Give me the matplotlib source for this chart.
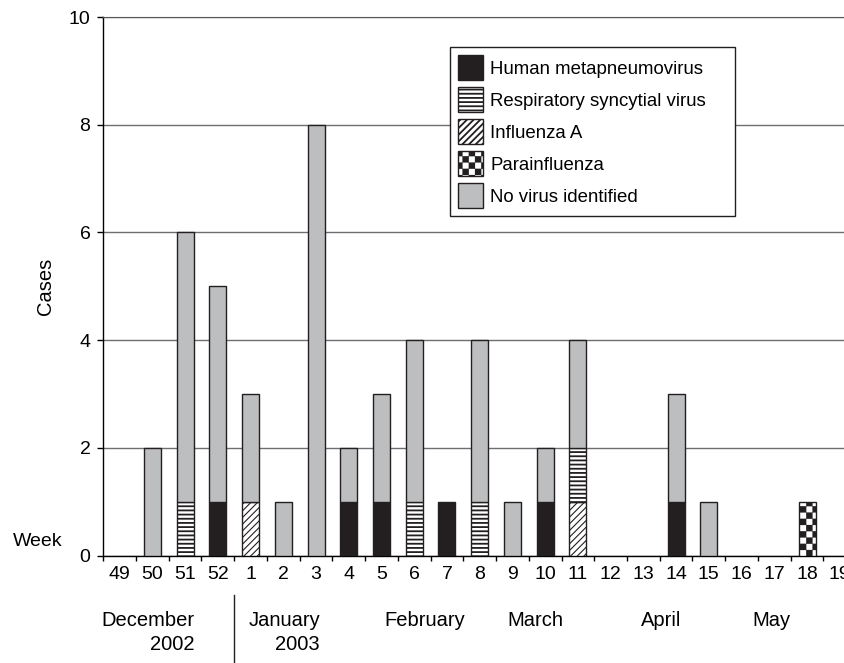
import warnings
import numpy as np
import matplotlib
matplotlib.use('Agg')
import matplotlib.pyplot as plt
import matplotlib.hatch as mhatch
import matplotlib.transforms as mtransforms
from matplotlib.path import Path
from matplotlib.patches import Patch

warnings.filterwarnings('ignore', message='hatch must consist')

# -------------------------------
# Data (cases per week)
# -------------------------------
weeks = ['49', '50', '51', '52', '1', '2', '3', '4', '5', '6', '7', '8',
         '9', '10', '11', '12', '13', '14', '15', '16', '17', '18', '19']
hmpv     = [0, 0, 0, 1, 0, 0, 0, 1, 1, 0, 1, 0, 0, 1, 0, 0, 0, 1, 0, 0, 0, 0, 0]
flu_a    = [0, 0, 0, 0, 1, 0, 0, 0, 0, 0, 0, 0, 0, 0, 1, 0, 0, 0, 0, 0, 0, 0, 0]
rsv      = [0, 0, 1, 0, 0, 0, 0, 0, 0, 1, 0, 1, 0, 0, 1, 0, 0, 0, 0, 0, 0, 0, 0]
para     = [0, 0, 0, 0, 0, 0, 0, 0, 0, 0, 0, 0, 0, 0, 0, 0, 0, 0, 0, 0, 0, 1, 0]
no_virus = [0, 2, 5, 4, 2, 1, 8, 1, 2, 3, 0, 3, 1, 1, 2, 0, 0, 2, 1, 0, 0, 0, 0]

months = ['December\n2002', 'January\n2003', 'February', 'March', 'April', 'May']
month_x = [2.30, 6.12, 9.33, 12.69, 16.54, 19.9]
month_ha = ['right', 'right', 'center', 'center', 'center', 'center']


# checkerboard hatch (not built into matplotlib)
class CheckerHatch(mhatch.HatchPatternBase):
    def __init__(self, hatch, density):
        self.cells = 16 if 'c' in hatch else 0
        self.num_vertices = 5 * (self.cells ** 2 // 2)

    def set_vertices_and_codes(self, vertices, codes):
        n = self.cells
        step = 1.0 / n
        ins = 0.008  # shrink a bit, the stroke adds width back
        k = 0
        for i in range(n):
            for j in range(n):
                if (i + j) % 2 == 0:
                    x0, y0 = i * step + ins, j * step + ins
                    s = step - 2 * ins
                    vertices[k:k + 5] = [[x0, y0], [x0 + s, y0], [x0 + s, y0 + s],
                                         [x0, y0 + s], [x0, y0]]
                    codes[k:k + 5] = [Path.MOVETO, Path.LINETO, Path.LINETO,
                                      Path.LINETO, Path.CLOSEPOLY]
                    k += 5


mhatch._hatch_types.append(CheckerHatch)

plt.rcParams['font.family'] = ['Liberation Sans', 'DejaVu Sans']
plt.rcParams['hatch.linewidth'] = 1.3

edge = '#231f20'
gray = '#bcbec0'
styles = [
    ('Human metapneumovirus', hmpv, dict(facecolor=edge, hatch=None)),
    ('Influenza A', flu_a, dict(facecolor='white', hatch='/////')),
    ('Respiratory syncytial virus', rsv, dict(facecolor='white', hatch='----')),
    ('Parainfluenza', para, dict(facecolor='white', hatch='c')),
    ('No virus identified', no_virus, dict(facecolor=gray, hatch=None)),
]

fig = plt.figure(figsize=(8.44, 6.63), dpi=100)
ax = fig.add_axes([0.1224, 0.1621, 0.8776, 0.8122])

x = np.arange(len(weeks))
bottom = np.zeros(len(weeks))
width = 0.52
for name, vals, st in styles:
    vals = np.array(vals, dtype=float)
    mask = vals > 0
    bars = ax.bar(x[mask], vals[mask], width, bottom=bottom[mask],
                  edgecolor=edge, linewidth=1.0, zorder=3, **st)
    if name == 'Influenza A':
        for b in bars:
            if hasattr(b, 'set_hatch_linewidth'):
                b.set_hatch_linewidth(0.8)
    bottom += vals

# axes styling
ax.set_yticks([0, 2, 4, 6, 8, 10])
ax.set_xticks(x)
ax.set_xticklabels(weeks)
ax.set_xticks(np.arange(len(weeks) + 1) - 0.5, minor=True)
ax.set_xlim(-0.5, 22.13)
ax.set_ylim(0, 10)
ax.tick_params(axis='x', which='major', length=0, pad=7.5, labelsize=14)
ax.tick_params(axis='x', which='minor', length=3.6, width=1.0, direction='out')
ax.tick_params(axis='y', length=4.3, width=1.0, pad=5, labelsize=14)
ax.yaxis.grid(True, color='#6d6e71', linewidth=1.0)
ax.set_axisbelow(True)
ax.spines['right'].set_visible(False)
ax.spines['top'].set_color('#58595b')
ax.spines['left'].set_linewidth(1.0)
ax.spines['bottom'].set_linewidth(1.0)

ax.set_ylabel('Cases', fontsize=14.5)
ax.yaxis.set_label_coords(-0.065, 0.5)

fig.text(13 / 844, 1 - 541 / 663, 'Week', fontsize=14, va='center', ha='left')

# month labels under the week numbers
blend = mtransforms.blended_transform_factory(ax.transData, fig.transFigure)
for m, mx, ha in zip(months, month_x, month_ha):
    nlines = m.count('\n') + 1
    yc = 620 + 12.5 * (nlines - 1)
    ax.text(mx, 1 - yc / 663, m, transform=blend, ha=ha, va='center',
            multialignment='right', fontsize=14.5, linespacing=1.38)
ax.plot([3.5, 3.5], [1 - 595 / 663, 0], transform=blend, color=edge,
        linewidth=1.0, clip_on=False)

# legend
handles = []
for name, vals, st in [styles[0], styles[2], styles[1], styles[3], styles[4]]:
    handles.append(Patch(edgecolor=edge, linewidth=1.0, label=name, **st))
top = 1 - 47 / 663
leg = ax.legend(handles=handles, loc='upper left',
                bbox_to_anchor=(450 / 844, top - 0.1, 285 / 844, 0.1),
                bbox_transform=fig.transFigure, mode='expand',
                fontsize=13.4, frameon=True, fancybox=False, framealpha=1,
                edgecolor=edge, handlelength=1.34, handleheight=1.69,
                handletextpad=0.38, labelspacing=0.38, borderpad=0.43,
                borderaxespad=0)
leg.get_frame().set_linewidth(1.0)

plt.savefig('out.png', dpi=100)
